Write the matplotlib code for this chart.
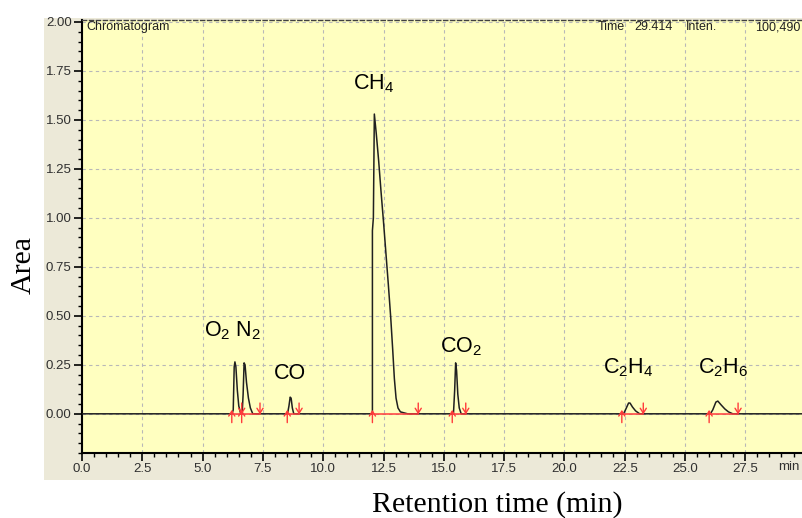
import matplotlib
matplotlib.use('Agg')
import matplotlib.pyplot as plt
from matplotlib.patches import Rectangle
from matplotlib.ticker import MultipleLocator, FormatStrFormatter

plt.rcParams['mathtext.default'] = 'regular'
plt.rcParams['font.family'] = ['Liberation Sans', 'DejaVu Sans']

# ---- data ----
o2_t = [6.22, 6.27, 6.31, 6.34, 6.38, 6.44, 6.50, 6.58]
o2_v = [0.0, 0.02, 0.24, 0.265, 0.24, 0.12, 0.04, 0.0]
n2_t = [6.64, 6.68, 6.72, 6.76, 6.82, 6.90, 6.98, 7.08]
n2_v = [0.0, 0.10, 0.26, 0.25, 0.16, 0.08, 0.03, 0.0]
co_t = [8.52, 8.58, 8.63, 8.67, 8.72, 8.78]
co_v = [0.0, 0.04, 0.085, 0.08, 0.03, 0.0]
ch4_t = [12.04, 12.04, 12.08, 12.12, 12.20, 12.30, 12.40, 12.50, 12.60, 12.70,
         12.80, 12.88, 12.95, 13.02, 13.10, 13.20, 13.50]
ch4_v = [0.0, 0.935, 1.0, 1.53, 1.43, 1.29, 1.13, 0.98, 0.82, 0.66,
         0.49, 0.33, 0.18, 0.08, 0.03, 0.01, 0.0]
co2_t = [15.40, 15.45, 15.49, 15.53, 15.58, 15.64, 15.72]
co2_v = [0.0, 0.12, 0.26, 0.22, 0.10, 0.03, 0.0]
c2h4_t = [22.45, 22.55, 22.66, 22.72, 22.82, 22.95, 23.12]
c2h4_v = [0.0, 0.025, 0.055, 0.055, 0.035, 0.015, 0.0]
c2h6_t = [26.05, 26.15, 26.28, 26.36, 26.50, 26.65, 26.80, 26.98]
c2h6_v = [0.0, 0.02, 0.06, 0.065, 0.045, 0.025, 0.01, 0.0]
run_end = 29.85

peak_starts = [6.21, 6.62, 8.51, 12.04, 15.35, 22.38, 26.00]
peak_ends = [6.62, 7.38, 9.00, 13.94, 15.91, 23.27, 27.20]
seg_starts = [6.21, 8.51, 12.04, 15.35, 22.38, 26.00]
seg_ends = [7.38, 9.00, 13.94, 15.91, 23.27, 27.20]

labels = ['O$_2$ N$_2$', 'CO', 'CH$_4$', 'CO$_2$', 'C$_2$H$_4$', 'C$_2$H$_6$']
label_t = [5.06, 7.96, 11.25, 14.84, 21.61, 25.55]
label_v = [0.394, 0.179, 1.658, 0.313, 0.204, 0.204]

# ---- assemble trace ----
trace_t = [0.0]
trace_v = [0.0]
for tt, vv in [(o2_t, o2_v), (n2_t, n2_v), (co_t, co_v), (ch4_t, ch4_v),
               (co2_t, co2_v), (c2h4_t, c2h4_v), (c2h6_t, c2h6_v)]:
    trace_t += tt
    trace_v += vv
trace_t.append(run_end)
trace_v.append(0.0)

W, H = 802, 518
fig = plt.figure(figsize=(W / 100, H / 100), dpi=100)
fig.patch.set_facecolor('white')

bg = fig.add_axes([0, 0, 1, 1], zorder=-5)
bg.set_axis_off()
bg.set_xlim(0, W)
bg.set_ylim(H, 0)
bg.add_patch(Rectangle((44, 18), 802 - 44, 480 - 18, facecolor='#ECE9D8',
                       edgecolor='none'))

ax = fig.add_axes([82 / W, 1 - 453 / H, (802 - 82) / W, (453 - 20) / H], zorder=1)
ax.set_facecolor('#FFFFC0')
ax.set_xlim(0, run_end)
ax.set_ylim(-0.2, 2.01)

ax.xaxis.set_major_locator(MultipleLocator(2.5))
ax.xaxis.set_minor_locator(MultipleLocator(0.5))
ax.yaxis.set_major_locator(MultipleLocator(0.25))
ax.yaxis.set_minor_locator(MultipleLocator(0.05))
ax.xaxis.set_major_formatter(FormatStrFormatter('%.1f'))
ax.yaxis.set_major_formatter(FormatStrFormatter('%.2f'))
ax.tick_params(which='major', direction='out', length=6, width=1.2,
               color='black', labelcolor='#303030', labelsize=9.5, pad=1.5)
ax.tick_params(which='minor', direction='out', length=3, width=1.0, color='black')

ax.grid(which='major', color='#B8B8B8', linestyle=(0, (3, 3)), lw=0.8)
ax.set_axisbelow(True)

for s in ['left', 'bottom']:
    ax.spines[s].set_linewidth(1.5)
    ax.spines[s].set_color('black')
ax.spines['right'].set_visible(False)
ax.spines['top'].set_linestyle((0, (3, 2)))
ax.spines['top'].set_color('#404040')
ax.spines['top'].set_linewidth(1.0)

ax.plot(trace_t, trace_v, color='#202020', lw=1.1, zorder=3)
for a, b in zip(seg_starts, seg_ends):
    ax.plot([a, b], [0, 0], color='#FF3B3B', lw=1.1, zorder=4)

arrow_kw = dict(arrowstyle='->,head_length=0.35,head_width=0.22',
                color='#FF3B3B', lw=1.0, shrinkA=0, shrinkB=0)
for t in peak_starts:
    ax.annotate('', xy=(t, 0.02), xytext=(t, -0.045), arrowprops=arrow_kw, zorder=5)
for t in peak_ends:
    ax.annotate('', xy=(t, -0.003), xytext=(t, 0.055), arrowprops=arrow_kw, zorder=5)

for lab, t, v in zip(labels, label_t, label_v):
    ax.text(t, v, lab, fontsize=15.5, ha='left', va='baseline', color='black', zorder=6)

# header texts
fig.text(86 / W, 1 - 27 / H, 'Chromatogram', fontsize=9, va='center', color='#202020')
for txt, xp in [('Time', 598), ('29.414', 634), ('Inten.', 686)]:
    fig.text(xp / W, 1 - 27 / H, txt, fontsize=9, va='center', color='#202020')
fig.text(800 / W, 1 - 27 / H, '100,490', fontsize=9, va='center', ha='right',
         color='#202020')
fig.text(800 / W, 1 - 467 / H, 'min', fontsize=9.5, va='center', ha='right',
         color='#303030')

# axis labels
fig.text(24 / W, 1 - 265 / H, 'Area', rotation=90, family='Liberation Serif',
         fontsize=21.5, ha='center', va='center')
fig.text(497 / W, 1 - 505 / H, 'Retention time (min)', family='Liberation Serif',
         fontsize=21.5, ha='center', va='center')

fig.savefig('out.png', dpi=100)
